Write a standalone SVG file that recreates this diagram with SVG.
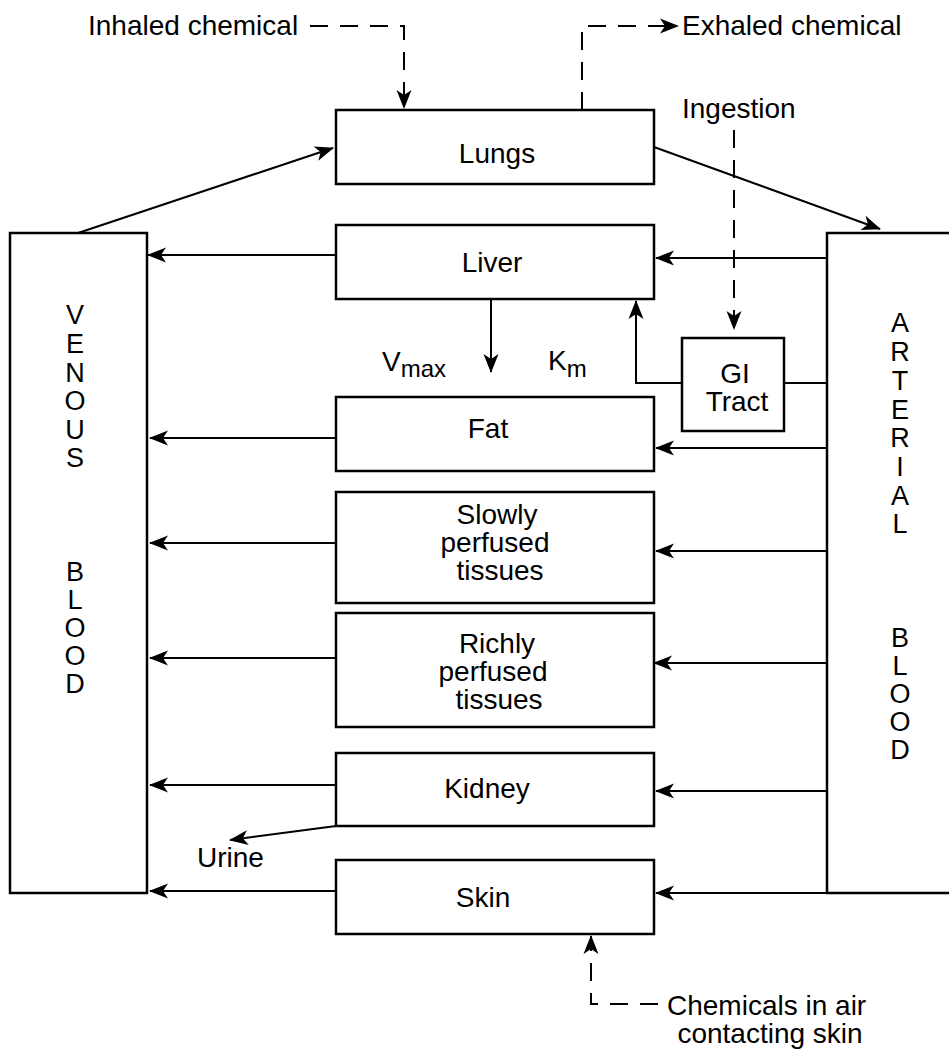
<svg xmlns="http://www.w3.org/2000/svg" width="949" height="1050" viewBox="0 0 949 1050">
<style>
.box{fill:#fff;stroke:#000;stroke-width:2.5}
.ln{fill:none;stroke:#000;stroke-width:2}
.dash{fill:none;stroke:#000;stroke-width:2;stroke-dasharray:18 12}
text{font-family:"Liberation Sans",Arial,sans-serif;font-size:28px;fill:#000}
.c{text-anchor:middle}
.v{font-size:27px;text-anchor:middle}
.sub{font-size:24px}
</style>
<defs>
<marker id="ah" markerUnits="userSpaceOnUse" markerWidth="20" markerHeight="16" refX="18" refY="8" orient="auto" overflow="visible">
<path d="M0,0.5 L19,8 L0,15.5 L5,8 z" fill="#000"/>
</marker>
</defs>
<rect width="949" height="1050" fill="#fff"/>

<g id="venous">
<rect class="box" x="10" y="233" width="137" height="660"/>
<text class="v" x="75" y="324">V</text>
<text class="v" x="75" y="353">E</text>
<text class="v" x="75" y="382">N</text>
<text class="v" x="75" y="410">O</text>
<text class="v" x="75" y="439">U</text>
<text class="v" x="75" y="467">S</text>
<text class="v" x="75" y="581">B</text>
<text class="v" x="75" y="609">L</text>
<text class="v" x="75" y="637">O</text>
<text class="v" x="75" y="665">O</text>
<text class="v" x="75" y="693">D</text>
</g>

<g id="arterial">
<rect class="box" x="827" y="233" width="140" height="660"/>
<text class="v" x="900" y="332">A</text>
<text class="v" x="900" y="361">R</text>
<text class="v" x="900" y="390">T</text>
<text class="v" x="900" y="419">E</text>
<text class="v" x="900" y="447">R</text>
<text class="v" x="900" y="476">I</text>
<text class="v" x="900" y="505">A</text>
<text class="v" x="900" y="533">L</text>
<text class="v" x="900" y="647">B</text>
<text class="v" x="900" y="675">L</text>
<text class="v" x="900" y="703">O</text>
<text class="v" x="900" y="731">O</text>
<text class="v" x="900" y="759">D</text>
</g>

<g id="lungs">
<rect class="box" x="336" y="110" width="318" height="74"/>
<text class="c" x="497" y="163">Lungs</text>
</g>
<g id="liver">
<rect class="box" x="336" y="225" width="318" height="74"/>
<text class="c" x="492" y="272">Liver</text>
</g>
<g id="fat">
<rect class="box" x="336" y="397" width="318" height="74"/>
<text class="c" x="488" y="438">Fat</text>
</g>
<g id="slowly">
<rect class="box" x="336" y="492" width="318" height="111"/>
<text class="c" x="497" y="524">Slowly</text>
<text class="c" x="495" y="552">perfused</text>
<text class="c" x="500" y="580">tissues</text>
</g>
<g id="richly">
<rect class="box" x="336" y="613" width="318" height="114"/>
<text class="c" x="497" y="653">Richly</text>
<text class="c" x="493" y="681">perfused</text>
<text class="c" x="499" y="709">tissues</text>
</g>
<g id="kidney">
<rect class="box" x="336" y="753" width="318" height="73"/>
<text class="c" x="487" y="798">Kidney</text>
</g>
<g id="skin">
<rect class="box" x="336" y="860" width="318" height="74"/>
<text class="c" x="483" y="907">Skin</text>
</g>
<g id="gi">
<rect class="box" x="682" y="338" width="102" height="93"/>
<text class="c" x="735" y="383">GI</text>
<text class="c" x="737" y="411">Tract</text>
</g>

<g id="labels">
<text x="88" y="35">Inhaled chemical</text>
<text x="682" y="35">Exhaled chemical</text>
<text x="682" y="118">Ingestion</text>
<text x="382" y="371">V<tspan class="sub" dy="6">max</tspan></text>
<text x="548" y="370">K<tspan class="sub" dy="7">m</tspan></text>
<text x="197" y="867">Urine</text>
<text x="667" y="1015">Chemicals in air</text>
<text class="c" x="770" y="1043">contacting skin</text>
</g>

<g id="connectors">
<line class="ln" x1="78" y1="233" x2="333" y2="148" marker-end="url(#ah)"/>
<line class="ln" x1="654" y1="147" x2="880" y2="229" marker-end="url(#ah)"/>

<line class="ln" x1="336" y1="255" x2="148" y2="255" marker-end="url(#ah)"/>
<line class="ln" x1="336" y1="438" x2="150" y2="438" marker-end="url(#ah)"/>
<line class="ln" x1="336" y1="543" x2="150" y2="543" marker-end="url(#ah)"/>
<line class="ln" x1="336" y1="658" x2="150" y2="658" marker-end="url(#ah)"/>
<line class="ln" x1="336" y1="785" x2="150" y2="785" marker-end="url(#ah)"/>
<line class="ln" x1="336" y1="891" x2="150" y2="891" marker-end="url(#ah)"/>

<line class="ln" x1="827" y1="258" x2="656" y2="258" marker-end="url(#ah)"/>
<line class="ln" x1="827" y1="448" x2="656" y2="448" marker-end="url(#ah)"/>
<line class="ln" x1="827" y1="551" x2="656" y2="551" marker-end="url(#ah)"/>
<line class="ln" x1="827" y1="663" x2="654" y2="663" marker-end="url(#ah)"/>
<line class="ln" x1="827" y1="791" x2="656" y2="791" marker-end="url(#ah)"/>
<line class="ln" x1="949" y1="893" x2="656" y2="893" marker-end="url(#ah)"/>

<line class="ln" x1="491" y1="299" x2="491" y2="372" marker-end="url(#ah)"/>
<polyline class="ln" points="682,383 636,383 636,301" marker-end="url(#ah)"/>
<line class="ln" x1="784" y1="383" x2="827" y2="383"/>

<line class="ln" x1="336" y1="826" x2="230" y2="840" marker-end="url(#ah)"/>

<polyline class="dash" points="310,26 404,26 404,108" marker-end="url(#ah)"/>
<polyline class="dash" points="582,110 582,26 678,26" marker-end="url(#ah)"/>
<line class="dash" x1="734" y1="130" x2="734" y2="329" marker-end="url(#ah)"/>
<polyline class="dash" points="658,1004 591,1004 591,936" marker-end="url(#ah)"/>
</g>
</svg>
